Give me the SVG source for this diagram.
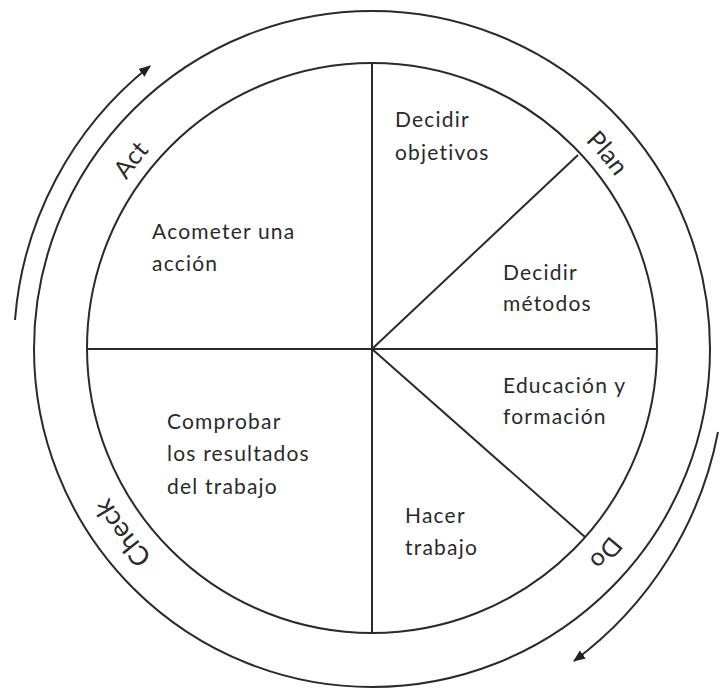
<svg xmlns="http://www.w3.org/2000/svg" xmlns:xlink="http://www.w3.org/1999/xlink" width="721" height="691" viewBox="0 0 721 691">
<style>
.ln{fill:none;stroke:#2a2a2a;stroke-width:2}
.t{font-family:Lato,"Open Sans","Liberation Sans",sans-serif;font-size:21px;letter-spacing:1.2px;fill:#2a2a2a}
.ring{font-family:Lato,"Open Sans","Liberation Sans",sans-serif;font-size:25px;fill:#2a2a2a}
</style>
<defs>
<marker id="ah" viewBox="0 0 12 10" refX="11" refY="5" markerWidth="12" markerHeight="10" markerUnits="userSpaceOnUse" orient="auto">
<path d="M0,0 L12,5 L0,10 Z" fill="#222"/>
</marker>
<path id="ringPath" d="M74,349 A298,298 0 1 1 670,349 A298,298 0 1 1 74,349"/>
<path id="ringPath2" d="M70,349 A302,302 0 1 1 674,349 A302,302 0 1 1 70,349"/>
</defs>
<rect width="721" height="691" fill="#fff"/>
<g id="circles">
<circle class="ln" cx="372" cy="349" r="338"/>
<circle class="ln" cx="372" cy="348" r="285"/>
</g>
<g id="connectors">
<line class="ln" x1="372" y1="63" x2="372" y2="633"/>
<line class="ln" x1="87" y1="349" x2="657" y2="349"/>
<line class="ln" x1="372" y1="349" x2="578" y2="155"/>
<line class="ln" x1="372" y1="349" x2="585" y2="537"/>
<path class="ln" d="M15,320 A360,360 0 0 1 150,66" marker-end="url(#ah)"/>
<path class="ln" d="M718,432 A372,372 0 0 1 574,661" marker-end="url(#ah)"/>
</g>
<g id="ring-labels">
<text class="ring" text-anchor="middle"><textPath xlink:href="#ringPath" startOffset="198">Act</textPath></text>
<text class="ring" text-anchor="middle"><textPath xlink:href="#ringPath" startOffset="729">Plan</textPath></text>
<text class="ring" text-anchor="middle"><textPath xlink:href="#ringPath2" startOffset="1165">Do</textPath></text>
<text class="ring" text-anchor="middle" style="font-size:27px"><textPath xlink:href="#ringPath2" startOffset="1705">Check</textPath></text>
</g>
<g id="decidir-objetivos"><text class="t" x="395" y="127">Decidir</text><text class="t" x="395" y="160">objetivos</text></g>
<g id="decidir-metodos"><text class="t" x="503" y="280">Decidir</text><text class="t" x="503" y="311">métodos</text></g>
<g id="educacion"><text class="t" x="503" y="393">Educación y</text><text class="t" x="503" y="424">formación</text></g>
<g id="hacer-trabajo"><text class="t" x="405" y="523">Hacer</text><text class="t" x="405" y="555">trabajo</text></g>
<g id="acometer"><text class="t" x="152" y="239">Acometer una</text><text class="t" x="152" y="271">acción</text></g>
<g id="comprobar"><text class="t" x="167" y="429">Comprobar</text><text class="t" x="167" y="461">los resultados</text><text class="t" x="167" y="494">del trabajo</text></g>
</svg>
